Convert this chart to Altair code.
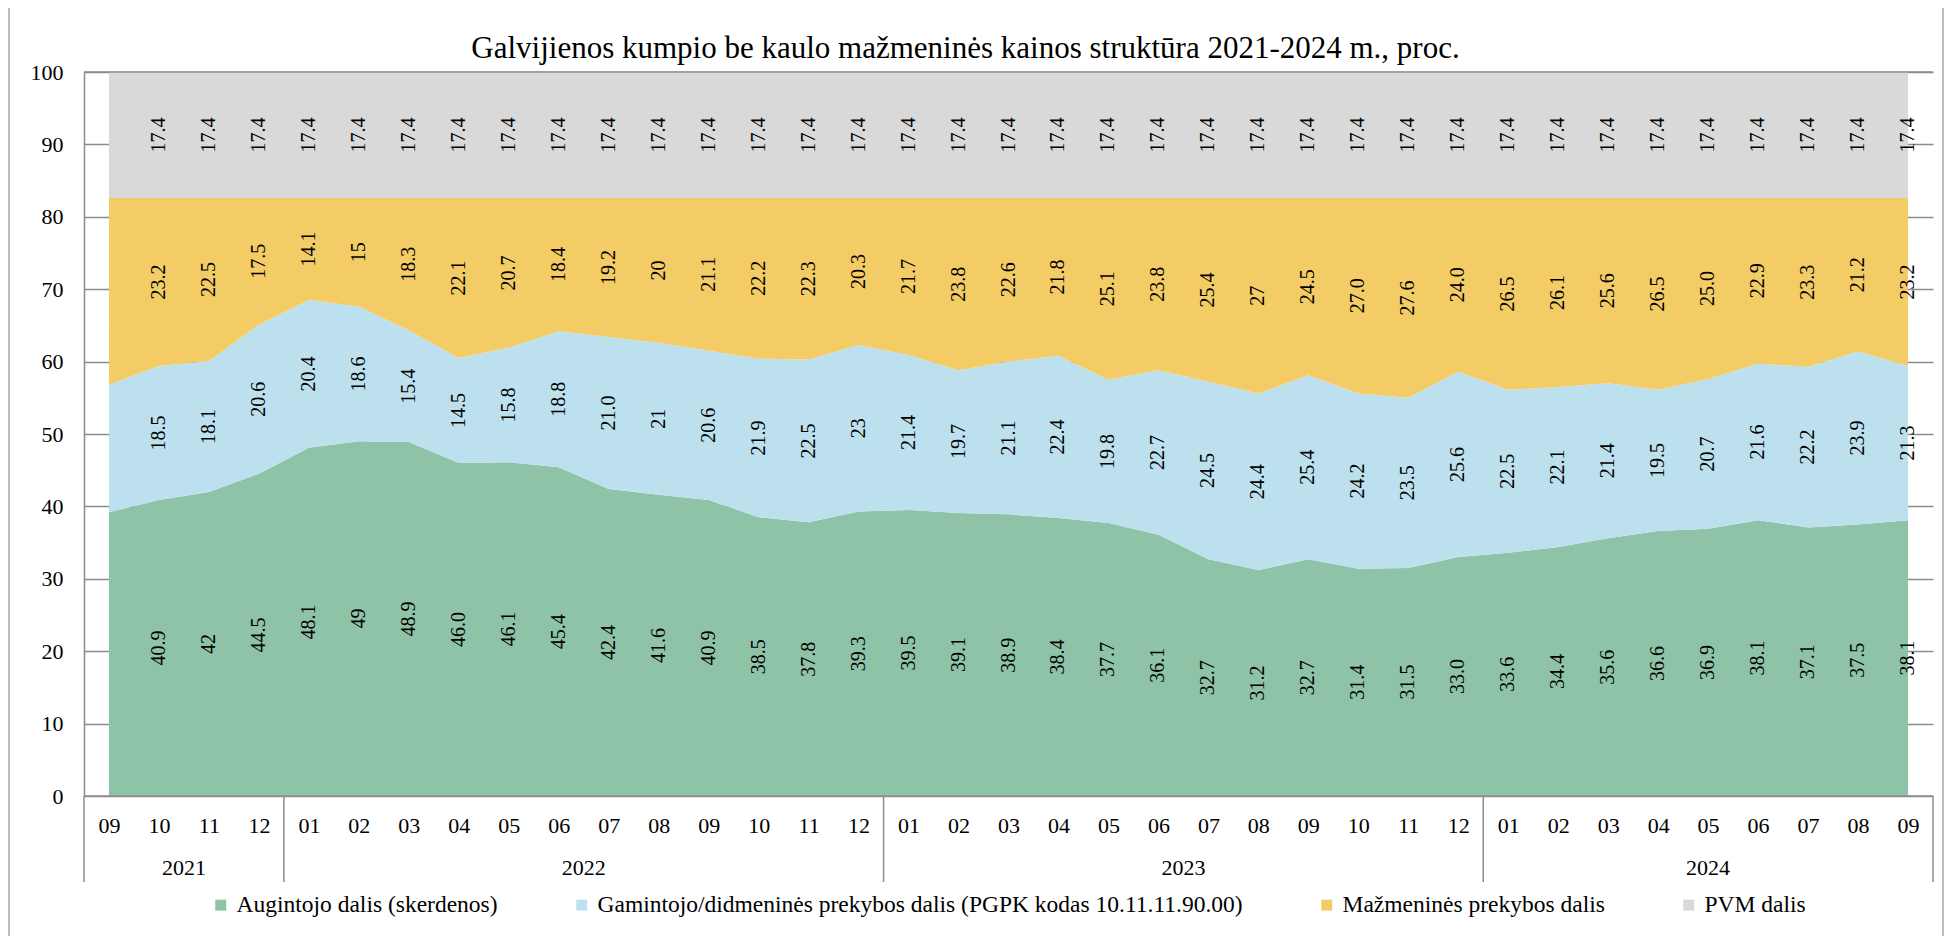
import altair as alt
import pandas as pd

# ---------------- data ----------------
months = ["09", "10", "11", "12",
          "01", "02", "03", "04", "05", "06", "07", "08", "09", "10", "11", "12",
          "01", "02", "03", "04", "05", "06", "07", "08", "09", "10", "11", "12",
          "01", "02", "03", "04", "05", "06", "07", "08", "09"]
year_names = ["2021", "2022", "2023", "2024"]
year_counts = [4, 12, 12, 9]

series_names = ["Augintojo dalis (skerdenos)",
                "Gamintojo/didmeninės prekybos dalis (PGPK kodas 10.11.11.90.00)",
                "Mažmeninės prekybos dalis",
                "PVM dalis"]
series_colors = ["#8fc3a7", "#bde0ef", "#f4cc66", "#d9d9d9"]

green = [39.2, 40.9, 42, 44.5, 48.1, 49, 48.9, 46.0, 46.1, 45.4, 42.4, 41.6, 40.9, 38.5, 37.8, 39.3,
         39.5, 39.1, 38.9, 38.4, 37.7, 36.1, 32.7, 31.2, 32.7, 31.4, 31.5, 33.0,
         33.6, 34.4, 35.6, 36.6, 36.9, 38.1, 37.1, 37.5, 38.1]
blue = [17.6, 18.5, 18.1, 20.6, 20.4, 18.6, 15.4, 14.5, 15.8, 18.8, 21.0, 21, 20.6, 21.9, 22.5, 23,
        21.4, 19.7, 21.1, 22.4, 19.8, 22.7, 24.5, 24.4, 25.4, 24.2, 23.5, 25.6,
        22.5, 22.1, 21.4, 19.5, 20.7, 21.6, 22.2, 23.9, 21.3]
orange = [25.8, 23.2, 22.5, 17.5, 14.1, 15, 18.3, 22.1, 20.7, 18.4, 19.2, 20, 21.1, 22.2, 22.3, 20.3,
          21.7, 23.8, 22.6, 21.8, 25.1, 23.8, 25.4, 27, 24.5, 27.0, 27.6, 24.0,
          26.5, 26.1, 25.6, 26.5, 25.0, 22.9, 23.3, 21.2, 23.2]
gray = [17.4, 17.4, 17.4, 17.4, 17.4, 17.4, 17.4, 17.4, 17.4, 17.4, 17.4, 17.4, 17.4, 17.4, 17.4, 17.4,
        17.4, 17.4, 17.4, 17.4, 17.4, 17.4, 17.4, 17.4, 17.4, 17.4, 17.4, 17.4,
        17.4, 17.4, 17.4, 17.4, 17.4, 17.4, 17.4, 17.4, 17.4]

green_lbl = ["", "40.9", "42", "44.5", "48.1", "49", "48.9", "46.0", "46.1", "45.4", "42.4", "41.6", "40.9",
             "38.5", "37.8", "39.3", "39.5", "39.1", "38.9", "38.4", "37.7", "36.1", "32.7", "31.2", "32.7",
             "31.4", "31.5", "33.0", "33.6", "34.4", "35.6", "36.6", "36.9", "38.1", "37.1", "37.5", "38.1"]
blue_lbl = ["", "18.5", "18.1", "20.6", "20.4", "18.6", "15.4", "14.5", "15.8", "18.8", "21.0", "21", "20.6",
            "21.9", "22.5", "23", "21.4", "19.7", "21.1", "22.4", "19.8", "22.7", "24.5", "24.4", "25.4",
            "24.2", "23.5", "25.6", "22.5", "22.1", "21.4", "19.5", "20.7", "21.6", "22.2", "23.9", "21.3"]
orange_lbl = ["", "23.2", "22.5", "17.5", "14.1", "15", "18.3", "22.1", "20.7", "18.4", "19.2", "20", "21.1",
              "22.2", "22.3", "20.3", "21.7", "23.8", "22.6", "21.8", "25.1", "23.8", "25.4", "27", "24.5",
              "27.0", "27.6", "24.0", "26.5", "26.1", "25.6", "26.5", "25.0", "22.9", "23.3", "21.2", "23.2"]
gray_lbl = ["", "17.4", "17.4", "17.4", "17.4", "17.4", "17.4", "17.4", "17.4", "17.4", "17.4", "17.4", "17.4",
            "17.4", "17.4", "17.4", "17.4", "17.4", "17.4", "17.4", "17.4", "17.4", "17.4", "17.4", "17.4",
            "17.4", "17.4", "17.4", "17.4", "17.4", "17.4", "17.4", "17.4", "17.4", "17.4", "17.4", "17.4"]

title_text = "Galvijienos kumpio be kaulo mažmeninės kainos struktūra 2021-2024 m., proc."

# ---------------- tables ----------------
rows = []
all_vals = [green, blue, orange, gray]
all_lbls = [green_lbl, blue_lbl, orange_lbl, gray_lbl]
for i in range(len(months)):
    base = 0.0
    for k, name in enumerate(series_names):
        v = all_vals[k][i]
        rows.append({"idx": i, "series": name, "ord": k, "value": v,
                     "label": all_lbls[k][i], "mid": base + v / 2})
        base += v
df = pd.DataFrame(rows)
lbl_df = df[df["label"] != ""]

n = len(months)
starts = []
s = 0
for c in year_counts:
    starts.append(s)
    s += c
year_df = pd.DataFrame({"year": year_names,
                        "idx": [st + (c - 1) / 2 for st, c in zip(starts, year_counts)]})
sep_df = pd.DataFrame({"idx": [st - 0.5 for st in starts] + [n - 0.5]})
hline_df = pd.DataFrame({"idx": [-0.5, -0.5], "idx2": [n - 0.5, n - 0.5], "yv": [0, 100]})
one_df = pd.DataFrame({"t": [title_text]})

# ---------------- encodings ----------------
FONT = "Liberation Serif"
GRID = "#8c8c8c"
W, H = 1849, 724

month_expr = "[" + ",".join("'" + m + "'" for m in months) + "][datum.value]"
xscale = alt.Scale(domain=[-0.5, n - 0.5], nice=False, zero=False)
xaxis = alt.Axis(values=list(range(n)), labelExpr=month_expr, domain=False, ticks=False, tickSize=0,
                 grid=False, labelFont=FONT, labelFontSize=22, labelColor="black",
                 labelBaseline="middle", labelPadding=29, labelFlush=False, labelOverlap=False, title=None)
yscale = alt.Scale(domain=[0, 100], nice=False)
yaxis = alt.Axis(values=list(range(0, 101, 10)), domain=True, domainColor=GRID, domainWidth=1.5,
                 ticks=False, tickSize=0, grid=True, gridColor=GRID, gridWidth=1.3,
                 labelFont=FONT, labelFontSize=22, labelColor="black", labelPadding=21, title=None)

X = alt.X("idx:Q", scale=xscale, axis=xaxis, title=None)

area = alt.Chart(df).mark_area(opacity=1, interpolate="linear").encode(
    x=X,
    y=alt.Y("value:Q", stack="zero", scale=yscale, axis=yaxis, title=None),
    color=alt.Color("series:N",
                    scale=alt.Scale(domain=series_names, range=series_colors),
                    legend=alt.Legend(orient="none", legendX=125, legendY=821, direction="horizontal",
                                      title=None, symbolType="square", symbolSize=120,
                                      symbolStrokeWidth=0, labelFont=FONT, labelFontSize=23.5,
                                      labelColor="black", labelLimit=0, columnPadding=72,
                                      labelOffset=4)),
    order=alt.Order("ord:Q"),
)

labels = alt.Chart(lbl_df).mark_text(angle=270, font=FONT, fontSize=20, color="black",
                                     align="center", baseline="middle").encode(
    x=X,
    y=alt.Y("mid:Q", scale=yscale, axis=yaxis, title=None),
    text="label:N",
)

hlines = alt.Chart(hline_df).mark_rule(color=GRID, strokeWidth=1.5).encode(
    x=X, x2="idx2:Q",
    y=alt.Y("yv:Q", scale=yscale, axis=yaxis, title=None),
)

seps = alt.Chart(sep_df).mark_rule(color=GRID, strokeWidth=1.5).encode(
    x=X, y=alt.value(H), y2=alt.value(H + 86),
)

years = alt.Chart(year_df).mark_text(font=FONT, fontSize=22, color="black",
                                     align="center", baseline="middle").encode(
    x=X, y=alt.value(H + 72), text="year:N",
)

title = alt.Chart(one_df).mark_text(font=FONT, fontSize=31, color="black",
                                    align="center", baseline="alphabetic").encode(
    x=alt.value(W / 2 - 43), y=alt.value(-14), text="t:N",
)

frame = alt.Chart(one_df).mark_rect(fillOpacity=0, stroke="#a6a6a6", strokeWidth=1.5).encode(
    x=alt.value(-75), x2=alt.value(W + 10), y=alt.value(-65), y2=alt.value(H + 200),
)

chart = alt.layer(area, hlines, labels, seps, years, title, frame).properties(
    width=W, height=H,
    autosize=alt.AutoSizeParams(type="none"),
    padding={"left": 76, "top": 64, "right": 14, "bottom": 140},
    background="white",
).configure_view(strokeWidth=0)

chart.save("out.html", embed_options={"renderer": "svg", "actions": False})
